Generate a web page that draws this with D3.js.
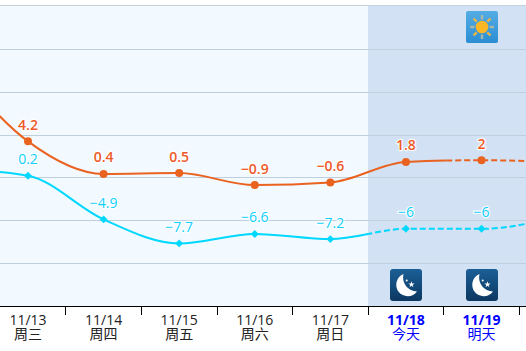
<!DOCTYPE html>
<html>
<head>
<meta charset="utf-8">
<script src="https://cdn.jsdelivr.net/npm/d3@7"></script>
<style>
html, body { margin: 0; padding: 0; background: #fff; overflow: hidden; }
svg { display: block; font-family: "Open Sans", "Noto Sans CJK TC", sans-serif; }
</style>
</head>
<body>
<svg id="chart" width="526" height="351"></svg>
<script>
const dates = ["11/13", "11/14", "11/15", "11/16", "11/17", "11/18", "11/19"]
const weekdays = ["周三", "周四", "周五", "周六", "周日", "今天", "明天"]
// 前后各多一个点, 画到画面外, 只为了曲线走势
const indexes = [-1, 0, 1, 2, 3, 4, 5, 6, 7]
const highs = [13.4, 4.2, 0.4, 0.5, -0.9, -0.6, 1.8, 2, 1.8]
const lows = [1, 0.2, -4.9, -7.7, -6.6, -7.2, -6, -6, -4.6]
const highLabels = ["", "4.2", "0.4", "0.5", "−0.9", "−0.6", "1.8", "2", ""]
const lowLabels = ["", "0.2", "−4.9", "−7.7", "−6.6", "−7.2", "−6", "−6", ""]
const gridValues = [15, 10, 5, 0, -5, -10]
const todayIndex = 5
// 虚线开始的位置 (x 的序号)
const highDashFrom = 5.53
const lowDashFrom = 4.5
const dayIcons = [null, null, null, null, null, null, "sun"]
const nightIcons = [null, null, null, null, null, "moon", "moon"]

const width = 526
const height = 351
const svg = d3.select("#chart")

const xScale = d3.scaleLinear().domain([0, 6]).range([28, 481.5])
const yScale = d3.scaleLinear().domain([-15, 20]).range([306, 5.9])
// 轴线和网格要落在整数像素上
const xTickScale = d3.scaleLinear().domain([0, 6]).range([27.6, 481.2]).interpolate(d3.interpolateRound)
const yGridScale = yScale.copy().interpolate(d3.interpolateRound)
const plotTop = yGridScale(20) - 1
const plotBottom = yGridScale(-15)
const bandLeft = xTickScale(todayIndex - 0.5)

const defs = svg.append("defs")

function addGradient(id, c1, c2) {
    const g = defs.append("linearGradient").attr("id", id)
        .attr("x1", 0).attr("y1", 0).attr("x2", 0).attr("y2", 1)
    g.append("stop").attr("offset", "0%").attr("stop-color", c1)
    g.append("stop").attr("offset", "100%").attr("stop-color", c2)
}
addGradient("sunBg", "#55ace3", "#2a8ed3")
addGradient("moonBg", "#1b5f97", "#0c3861")

function addClip(id, from, to) {
    defs.append("clipPath").attr("id", id).append("rect")
        .attr("x", from).attr("y", 0).attr("width", to - from).attr("height", height)
}
addClip("highSolid", -100, xScale(highDashFrom))
addClip("highDash", xScale(highDashFrom), width + 100)
addClip("lowSolid", -100, xScale(lowDashFrom))
addClip("lowDash", xScale(lowDashFrom), width + 100)

// 背景
svg.append("rect")
    .attr("x", 0).attr("y", plotTop)
    .attr("width", width).attr("height", plotBottom - plotTop)
    .attr("fill", "#f3faff")
svg.append("rect")
    .attr("x", bandLeft).attr("y", plotTop)
    .attr("width", width - bandLeft).attr("height", plotBottom - plotTop)
    .attr("fill", "#d2e2f4")

// 网格线
const grid = svg.append("g")
    .call(d3.axisRight(yGridScale).tickValues(gridValues).tickSize(width).tickFormat("").offset(0.5))
grid.select(".domain").remove()
grid.selectAll("line").attr("stroke", "#bfcfdd").attr("stroke-width", 1)
grid.append("line")
    .attr("x1", 0).attr("x2", width)
    .attr("y1", plotTop + 0.5).attr("y2", plotTop + 0.5)
    .attr("stroke", "#c6d3df")

// x 轴
const xAxis = svg.append("g")
    .attr("transform", "translate(0," + plotBottom + ")")
    .call(d3.axisBottom(xTickScale)
        .tickValues(d3.range(0, 7).map(d => d + 0.5))
        .tickSize(9)
        .tickSizeOuter(0)
        .tickFormat("")
        .offset(0.5))
xAxis.select(".domain").remove()
xAxis.append("line").attr("x1", 0).attr("x2", width).attr("y1", 0.5).attr("y2", 0.5).attr("stroke", "#000")
xAxis.selectAll(".tick line").attr("stroke", "#000")

const labels = svg.append("g")
dates.forEach((d, i) => {
    const today = i >= todayIndex
    labels.append("text")
        .attr("x", xScale(i)).attr("y", 325)
        .attr("text-anchor", "middle")
        .attr("fill", today ? "#0000ff" : "#222")
        .attr("font-size", 14)
        .attr("font-weight", today ? "bold" : "normal")
        .text(d)
    labels.append("text")
        .attr("x", xScale(i)).attr("y", 339)
        .attr("text-anchor", "middle")
        .attr("fill", today ? "#0000ff" : "#222")
        .attr("font-size", 14)
        .text(weekdays[i])
})

// 曲线
const lineGen = d3.line()
    .x(d => xScale(d.i))
    .y(d => yScale(d.v))
    .curve(d3.curveMonotoneX)

function drawSeries(values, color, solidClip, dashClip, dash) {
    const pts = indexes.map((i, k) => ({ i: i, v: values[k] }))
    svg.append("path").attr("d", lineGen(pts))
        .attr("fill", "none").attr("stroke", color).attr("stroke-width", 2)
        .attr("clip-path", "url(#" + solidClip + ")")
    svg.append("path").attr("d", lineGen(pts))
        .attr("fill", "none").attr("stroke", color).attr("stroke-width", 2)
        .attr("stroke-dasharray", dash)
        .attr("clip-path", "url(#" + dashClip + ")")
    return pts
}

const highColor = "#e9621f"
const lowColor = "#00d8ff"
const highPts = drawSeries(highs, highColor, "highSolid", "highDash", "6,3")
const lowPts = drawSeries(lows, lowColor, "lowSolid", "lowDash", "6,3")

svg.selectAll(".high-dot")
    .data(highPts)
    .enter()
    .append("circle")
    .attr("class", "high-dot")
    .attr("cx", d => xScale(d.i))
    .attr("cy", d => yScale(d.v))
    .attr("r", 4)
    .attr("fill", highColor)

const diamond = d3.symbol().type(d3.symbolDiamond2).size(40)
svg.selectAll(".low-dot")
    .data(lowPts)
    .enter()
    .append("path")
    .attr("class", "low-dot")
    .attr("d", diamond)
    .attr("transform", d => "translate(" + xScale(d.i) + "," + yScale(d.v) + ")")
    .attr("fill", lowColor)

function drawLabels(values, texts, color, weight) {
    svg.append("g").selectAll("text")
        .data(indexes)
        .enter()
        .append("text")
        .attr("x", d => xScale(d))
        .attr("y", (d, k) => yScale(values[k]) - 11.5)
        .attr("text-anchor", "middle")
        .attr("font-size", 14)
        .attr("font-weight", weight)
        .attr("fill", color)
        .attr("stroke", "rgba(255,255,255,0.85)")
        .attr("stroke-width", 2.5)
        .attr("stroke-linejoin", "round")
        .attr("paint-order", "stroke")
        .text((d, k) => texts[k])
}
drawLabels(highs, highLabels, "#ee5a28", 600)
drawLabels(lows, lowLabels, "#0fd0fb", 500)

// 天气图标
function drawSun(cx, cy) {
    const g = svg.append("g").attr("transform", "translate(" + cx + "," + cy + ")")
    g.append("rect").attr("x", -16).attr("y", -16).attr("width", 32).attr("height", 32)
        .attr("rx", 2).attr("fill", "url(#sunBg)")
    d3.range(8).forEach(k => {
        g.append("rect").attr("x", -1.2).attr("y", -12).attr("width", 2.4).attr("height", 4.5)
            .attr("fill", k % 2 ? "#e5b54a" : "#a9b7a8")
            .attr("transform", "rotate(" + k * 45 + ")")
    })
    g.append("circle").attr("r", 6.3).attr("fill", "#fbb726")
}

function drawMoon(cx, cy) {
    const g = svg.append("g").attr("transform", "translate(" + cx + "," + cy + ")")
    g.append("rect").attr("x", -16).attr("y", -16).attr("width", 32).attr("height", 32)
        .attr("rx", 3).attr("fill", "url(#moonBg)")
    g.append("path")
        .attr("d", "M-2.5,-11 A11.5,11.5 0 1 0 11,6.5 A14,14 0 0 1 -2.5,-11 Z")
        .attr("fill", "#fff")
    g.append("path").attr("d", d3.symbol().type(d3.symbolStar).size(12))
        .attr("transform", "translate(5.5,-0.5)").attr("fill", "#fff")
    g.append("circle").attr("cx", 0.7).attr("cy", -4.5).attr("r", 1).attr("fill", "#fff")
}

dayIcons.forEach((d, i) => { if (d === "sun") drawSun(Math.round(xScale(i)), 27) })
nightIcons.forEach((d, i) => { if (d === "moon") drawMoon(Math.round(xScale(i)), 285) })
</script>
</body>
</html>
